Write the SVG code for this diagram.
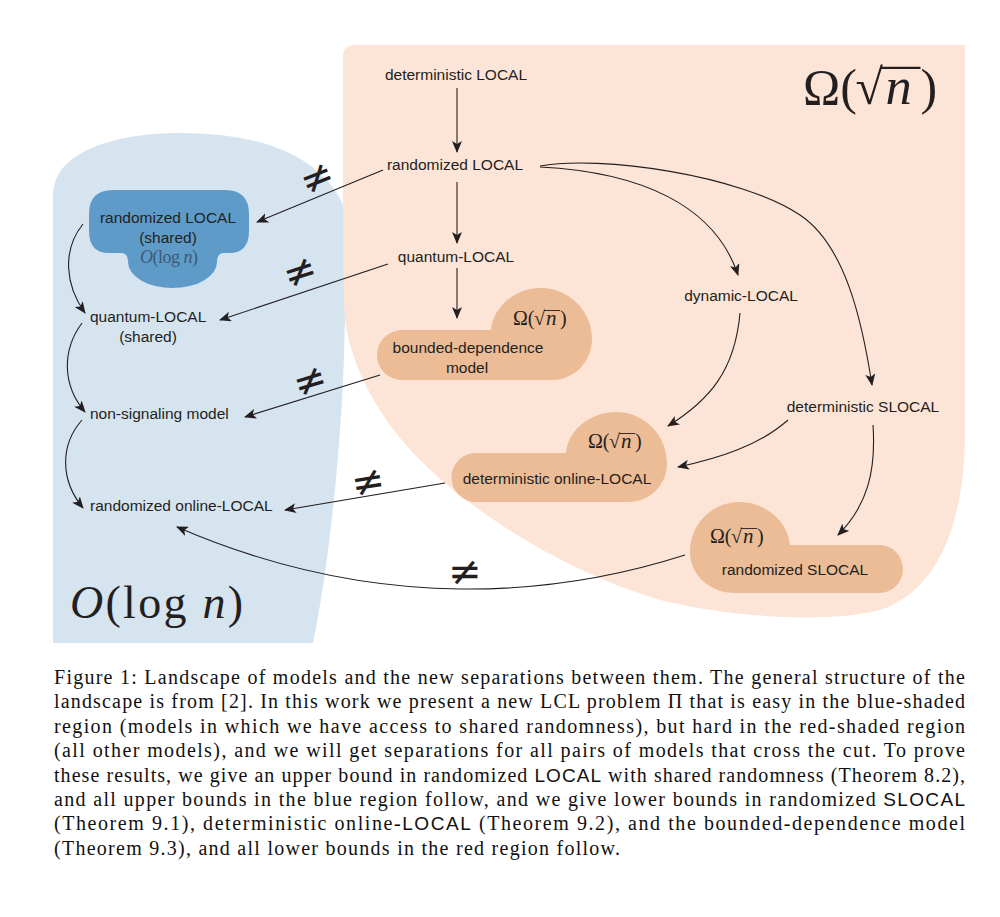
<svg xmlns="http://www.w3.org/2000/svg" width="1000" height="917" viewBox="0 0 1000 917">
<style>
.lbl{font-family:"Liberation Sans","Noto Sans",sans-serif;font-size:15.5px;fill:#231f20}
.mth{font-family:"Liberation Serif","DejaVu Serif",serif;fill:#231f20}
.cap{font-family:"Liberation Serif","DejaVu Serif",serif;font-size:20px;fill:#111}
.sf{font-family:"Liberation Sans",sans-serif;font-size:19px}
.edge{fill:none;stroke:#231f20;stroke-width:1.1}
.neq{font-family:"DejaVu Sans",sans-serif;font-size:40px;fill:#231f20;text-anchor:middle}
.pn{fill:#ebbc96}
</style>
<defs>
<marker id="ah" viewBox="0 0 12 10" refX="11" refY="5" markerWidth="12" markerHeight="10" markerUnits="userSpaceOnUse" orient="auto">
<path d="M0,0 L12,5 L0,10 L3,5 Z" fill="#231f20"/>
</marker>
<g id="om">
<text class="mth" x="0" y="0" font-size="20">Ω(</text>
<text class="mth" x="21" y="0" font-size="20">√</text>
<line x1="31" y1="-14.5" x2="47" y2="-14.5" stroke="#231f20" stroke-width="0.9"/>
<text class="mth" x="33" y="0" font-size="21" font-style="italic">n</text>
<text class="mth" x="47" y="0" font-size="20">)</text>
</g>
</defs>
<rect width="1000" height="917" fill="#fff"/>
<g id="regions">
<path d="M53,643 V195 C53,150 120,133 180,133 C260,133 320,155 343,205 L345,300 C345,420 330,560 313,643 Z" fill="#d6e4f0"/>
<path d="M355,45 H965 V430 C965,520 940,590 880,610 C820,625 720,615 660,600 C560,570 470,510 420,460 C380,420 352,370 345,320 C343,290 343,240 343,200 V57 Q343,45 355,45 Z" fill="#fce4d6"/>
<use href="#om" transform="translate(803,104) scale(2.5)"/>
<text class="mth" x="70" y="618" font-size="46" textLength="173" lengthAdjust="spacing"><tspan font-style="italic">O</tspan>(log <tspan font-style="italic">n</tspan>)</text>
</g>
<g id="connectors">
<path class="edge" marker-end="url(#ah)" d="M457,88 V152"/>
<path class="edge" marker-end="url(#ah)" d="M457,182 V243"/>
<path class="edge" marker-end="url(#ah)" d="M457,268 V318"/>
<path class="edge" marker-end="url(#ah)" d="M383,170 L257,222"/>
<path class="edge" marker-end="url(#ah)" d="M388,264 L220,320"/>
<path class="edge" marker-end="url(#ah)" d="M380,375 L245,417"/>
<path class="edge" marker-end="url(#ah)" d="M445,483 L285,510"/>
<path class="edge" marker-end="url(#ah)" d="M685,555 C560,595 380,615 177,527"/>
<path class="edge" marker-end="url(#ah)" d="M83,224 C62,250 65,285 85,313"/>
<path class="edge" marker-end="url(#ah)" d="M82,323 C62,350 62,385 85,412"/>
<path class="edge" marker-end="url(#ah)" d="M82,420 C60,445 60,480 83,508"/>
<path class="edge" marker-end="url(#ah)" d="M540,166 C600,155 740,175 800,215 C845,245 862,320 872,385"/>
<path class="edge" marker-end="url(#ah)" d="M540,167 C640,172 715,205 738,275"/>
<path class="edge" marker-end="url(#ah)" d="M740,313 C735,370 710,400 668,426"/>
<path class="edge" marker-end="url(#ah)" d="M788,420 C760,445 720,458 678,467"/>
<path class="edge" marker-end="url(#ah)" d="M873,425 C876,470 868,505 838,535"/>
<text class="neq" transform="translate(317,178) rotate(-22)" y="13">≠</text>
<text class="neq" transform="translate(300,272) rotate(-18)" y="13">≠</text>
<text class="neq" transform="translate(310,381) rotate(-17)" y="13">≠</text>
<text class="neq" transform="translate(368,482) rotate(-9)" y="13">≠</text>
<text class="neq" transform="translate(465,572)" y="13">≠</text>
</g>
<g id="n-detlocal"><text class="lbl" x="456" y="80" text-anchor="middle">deterministic LOCAL</text></g>
<g id="n-randlocal"><text class="lbl" x="455" y="170" text-anchor="middle">randomized LOCAL</text></g>
<g id="n-quantum"><text class="lbl" x="456" y="262" text-anchor="middle">quantum-LOCAL</text></g>
<g id="n-dynamic"><text class="lbl" x="741" y="301" text-anchor="middle">dynamic-LOCAL</text></g>
<g id="n-detslocal"><text class="lbl" x="863" y="412" text-anchor="middle">deterministic SLOCAL</text></g>
<g id="n-bounded">
<path class="pn" d="M402,330 H491 C493,307 515,288 541,288 C569,288 592,311 592,339 C592,362 574,380 552,380 H402 A25,25 0 0 1 402,330 Z"/>
<use href="#om" x="513" y="325"/>
<text class="lbl" x="468" y="353" text-anchor="middle">bounded-dependence</text>
<text class="lbl" x="467" y="373" text-anchor="middle">model</text>
</g>
<g id="n-detonline">
<path class="pn" d="M476,453 H566 C568,430 590,412 616,412 C644,412 667,435 667,463 C667,485 650,502 628,502 H476 A24.5,24.5 0 0 1 476,453 Z"/>
<use href="#om" x="588" y="448"/>
<text class="lbl" x="557" y="484" text-anchor="middle">deterministic online-LOCAL</text>
</g>
<g id="n-randslocal">
<path class="pn" d="M790,545 H879 A24,24 0 0 1 879,593 H735 C710,593 690,575 690,552 C690,524 712,502 740,502 C766,502 788,522 790,545 Z"/>
<use href="#om" x="710" y="543"/>
<text class="lbl" x="795" y="575" text-anchor="middle">randomized SLOCAL</text>
</g>
<g id="n-randshared">
<path fill="#5f9bc8" d="M113,190 H225 Q249,190 249,214 V231 Q249,253 229,253 H224 Q217,253 217,262 A44.5,26 0 0 1 128,262 Q128,253 121,253 H109 Q89,253 89,231 V214 Q89,190 113,190 Z"/>
<text class="lbl" x="168" y="223" text-anchor="middle">randomized LOCAL</text>
<text class="lbl" x="168" y="243" text-anchor="middle">(shared)</text>
<text class="mth" x="140" y="263" font-size="18" style="fill:#3d5a73" textLength="58" lengthAdjust="spacing"><tspan font-style="italic">O</tspan>(log <tspan font-style="italic">n</tspan>)</text>
</g>
<g id="n-quantumshared">
<text class="lbl" x="90" y="322">quantum-LOCAL</text>
<text class="lbl" x="148" y="342" text-anchor="middle">(shared)</text>
</g>
<g id="n-nonsignaling"><text class="lbl" x="90" y="419">non-signaling model</text></g>
<g id="n-randonline"><text class="lbl" x="90" y="511">randomized online-LOCAL</text></g>
<g id="caption">
<text class="cap" x="54" y="684" textLength="911" lengthAdjust="spacing">Figure 1: Landscape of models and the new separations between them. The general structure of the</text>
<text class="cap" x="54" y="708.4" textLength="911" lengthAdjust="spacing">landscape is from [2]. In this work we present a new LCL problem Π that is easy in the blue-shaded</text>
<text class="cap" x="54" y="732.8" textLength="911" lengthAdjust="spacing">region (models in which we have access to shared randomness), but hard in the red-shaded region</text>
<text class="cap" x="54" y="757.2" textLength="911" lengthAdjust="spacing">(all other models), and we will get separations for all pairs of models that cross the cut. To prove</text>
<text class="cap" x="54" y="781.6" textLength="911" lengthAdjust="spacing">these results, we give an upper bound in randomized <tspan class="sf">LOCAL</tspan> with shared randomness (Theorem 8.2),</text>
<text class="cap" x="54" y="806" textLength="911" lengthAdjust="spacing">and all upper bounds in the blue region follow, and we give lower bounds in randomized <tspan class="sf">SLOCAL</tspan></text>
<text class="cap" x="54" y="830.4" textLength="911" lengthAdjust="spacing">(Theorem 9.1), deterministic online-<tspan class="sf">LOCAL</tspan> (Theorem 9.2), and the bounded-dependence model</text>
<text class="cap" x="54" y="854.8" textLength="566" lengthAdjust="spacing">(Theorem 9.3), and all lower bounds in the red region follow.</text>
</g>
</svg>
